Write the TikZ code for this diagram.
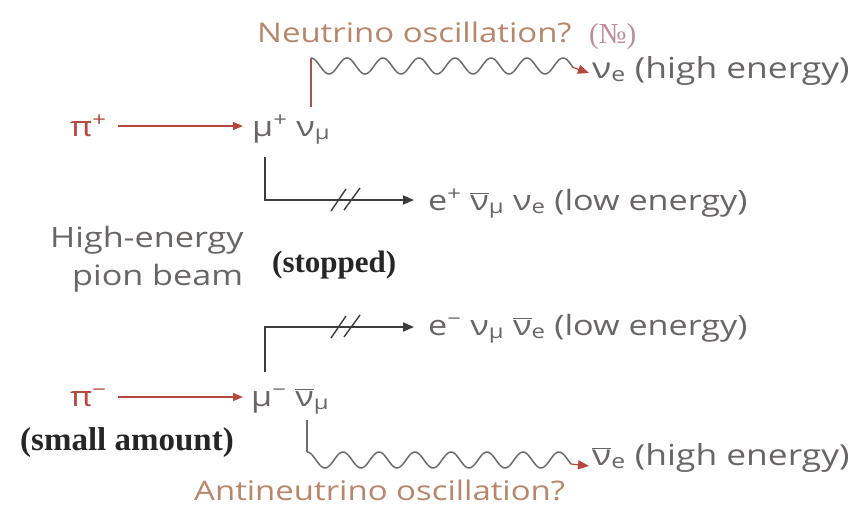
\documentclass[tikz,border=0pt]{standalone}
\usepackage{fontspec}
\setmainfont{Open Sans}[FakeStretch=1.22]
\newfontfamily\serifr{Liberation Serif}
\usetikzlibrary{arrows.meta}
\definecolor{tantxt}{HTML}{B8866A}
\definecolor{graytxt}{HTML}{6A6565}
\definecolor{pired}{HTML}{B5473F}
\definecolor{pinkno}{HTML}{C08A9A}
\definecolor{linegray}{HTML}{3C3C3C}
\definecolor{wavegray}{HTML}{6E6A6A}
\newcommand\nubar{\ensuremath{\overline{\hbox{ν}}}}
\begin{document}
\begin{tikzpicture}[x=1pt,y=-1pt,
  txt/.style={inner sep=0pt, anchor=base west, text=graytxt, font=\fontsize{28}{34}\selectfont},
  hitxt/.style={txt, font=\fontsize{29}{34}\selectfont},
  qtxt/.style={inner sep=0pt, anchor=base west, text=tantxt, font=\fontsize{27}{32}\selectfont},
  boldlab/.style={inner sep=0pt, anchor=base west, text=black!85, font=\serifr\bfseries\fontsize{31}{36}\selectfont},
  redarrow/.style={draw=pired, line width=1.5pt, -{Triangle[length=10pt,width=8pt]}},
  blackarrow/.style={draw=linegray, line width=1.6pt, -{Triangle[length=11pt,width=9pt]}},
  slashline/.style={draw=linegray, line width=1.4pt},
  wave/.style={draw=wavegray, line width=1.5pt},
  vred/.style={draw=pired!80!gray, line width=1.4pt},
  tiparrow/.style={draw=pired, line width=1.2pt, -{Triangle[length=11pt,width=9pt]}}]
\useasboundingbox (0,0) rectangle (858,519);
% upper part
\node[qtxt] (q1) at (257,42) {Neutrino oscillation?};
\node[inner sep=0pt, anchor=base west, text=pinkno, font=\serifr\fontsize{29}{32}\selectfont] (no) at (589,44) {(№)};
\node[txt, text=pired] (pip) at (70,136) {π\textsuperscript{+}};
\node[txt] (mup) at (252,136) {μ\textsuperscript{+} ν\textsubscript{μ}};
\node[hitxt] (nue) at (592,78) {ν\textsubscript{e} (high energy)};
\node[txt] (lowp) at (428,210) {e\textsuperscript{+} \nubar\textsubscript{μ} ν\textsubscript{e} (low energy)};
\coordinate (a1) at (118,126);
\coordinate (a2) at (243,126);
\draw[redarrow] (a1) -- (a2);
\coordinate (v1) at (311,107);
\coordinate (w1) at (311,58);
\coordinate (w1e) at (573,67.4);
\coordinate (t1) at (589,73);
\draw[vred] (v1) -- (w1);
\draw[wave] plot[domain=0:262, samples=220, smooth] ({311+\x},{66-8*cos(\x*10)});
\draw[tiparrow] (w1e) -- (t1);
\coordinate (b1) at (265,157);
\coordinate (b2) at (265,200);
\coordinate (b3) at (414,200);
\draw[blackarrow] (b1) -- (b2) -- (b3);
\draw[slashline] (331,211) -- (346,189);
\draw[slashline] (344,210) -- (360,188);
% middle labels
\node[txt] (he) at (50,247) {High-energy};
\node[txt] (pb) at (72,285) {pion beam};
\node[boldlab] (st) at (272,272) {(stopped)};
% lower part
\node[txt] (lowm) at (428,335) {e\textsuperscript{−} ν\textsubscript{μ} \nubar\textsubscript{e} (low energy)};
\node[txt, text=pired] (pim) at (70,406) {π\textsuperscript{−}};
\node[txt] (mum) at (251,406) {μ\textsuperscript{−} \nubar\textsubscript{μ}};
\node[boldlab, font=\serifr\bfseries\fontsize{33}{38}\selectfont] (sa) at (20,450) {(small amount)};
\node[hitxt] (nuebar) at (592,465) {\nubar\textsubscript{e} (high energy)};
\node[qtxt] (q2) at (194,500) {Antineutrino oscillation?};
\coordinate (c1) at (118,397);
\coordinate (c2) at (243,397);
\draw[redarrow] (c1) -- (c2);
\coordinate (d1) at (265,372);
\coordinate (d2) at (265,327);
\coordinate (d3) at (414,327);
\draw[blackarrow] (d1) -- (d2) -- (d3);
\draw[slashline] (331,338) -- (346,316);
\draw[slashline] (344,337) -- (360,315);
\coordinate (v2) at (307,420);
\coordinate (w2) at (307,452);
\coordinate (w2e) at (571,464);
\coordinate (t2) at (589,466);
\draw[draw=wavegray, line width=1.4pt] (v2) -- (w2);
\draw[wave] plot[domain=0:264, samples=220, smooth] ({307+\x},{460-8*cos(\x*10)});
\draw[tiparrow] (w2e) -- (t2);
\end{tikzpicture}
\end{document}
